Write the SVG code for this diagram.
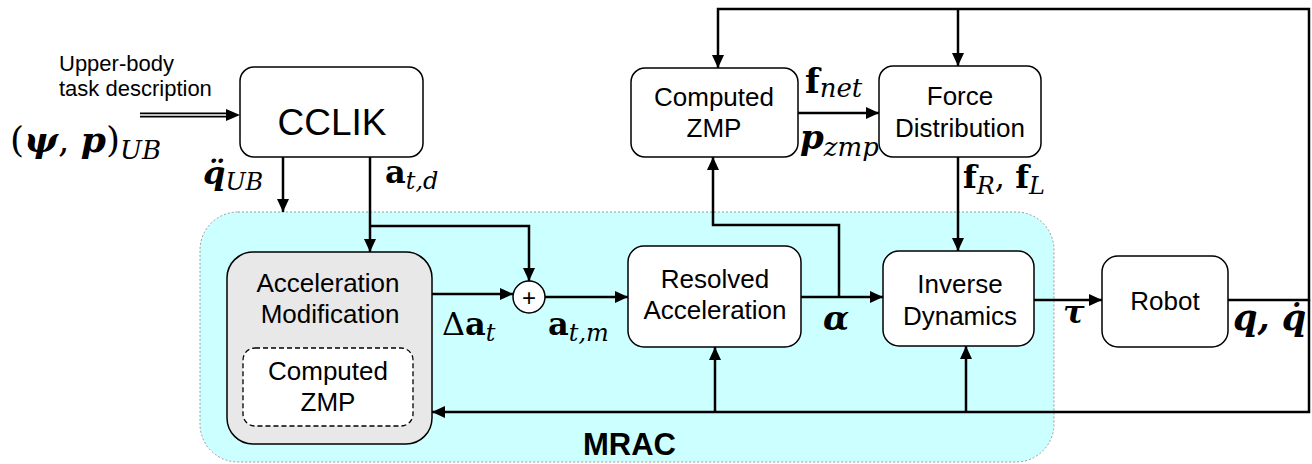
<svg xmlns="http://www.w3.org/2000/svg" width="1312" height="464" viewBox="0 0 1312 464">
<defs>
<marker id="ah" markerUnits="userSpaceOnUse" markerWidth="14" markerHeight="12" refX="13" refY="6" orient="auto">
<path d="M0,0 L13,6 L0,12 Z" fill="#000"/>
</marker>
<style>
.box{fill:#fff;stroke:#000;stroke-width:1.5}
.lbl{font-family:"Liberation Sans",Arial,sans-serif;font-size:26px;text-anchor:middle;fill:#000}
.ln{fill:none;stroke:#000;stroke-width:2.5}
.m{font-family:"DejaVu Serif","Liberation Serif",serif;fill:#000}
.mb{font-weight:bold}
.mi{font-style:italic}
</style>
</defs>
<rect width="1312" height="464" fill="#fff"/>
<g id="mrac">
<rect x="200" y="212" width="854" height="250" rx="38" fill="#ccffff" stroke="#999" stroke-width="1" stroke-dasharray="2,2"/>
<text x="583" y="455" font-family="'Liberation Sans',Arial,sans-serif" font-size="31" font-weight="bold">MRAC</text>
</g>
<g id="input">
<text x="59" y="71" font-family="'Liberation Sans',Arial,sans-serif" font-size="22">Upper-body</text>
<text x="59" y="96" font-family="'Liberation Sans',Arial,sans-serif" font-size="22">task description</text>
<text class="m" x="10" y="152" font-size="36">(<tspan class="mb mi">ψ</tspan>, <tspan class="mb mi">p</tspan>)<tspan class="mi" font-size="26" dy="7">UB</tspan></text>
</g>
<g id="cclik">
<rect class="box" x="240" y="67" width="183" height="90" rx="14"/>
<text class="lbl" x="332" y="135" style="font-size:37px">CCLIK</text>
</g>
<g id="accmod">
<rect x="227" y="252" width="205" height="192" rx="26" fill="#e8e8e8" stroke="#000" stroke-width="1.5"/>
<text class="lbl" x="328" y="292">Acceleration</text>
<text class="lbl" x="330" y="323">Modification</text>
<rect x="243" y="348" width="170" height="78" rx="12" fill="#fff" stroke="#000" stroke-width="1.3" stroke-dasharray="5,3"/>
<text class="lbl" x="328" y="380">Computed</text>
<text class="lbl" x="328" y="411">ZMP</text>
</g>
<g id="sum">
<circle cx="529" cy="297" r="16" fill="#fff" stroke="#000" stroke-width="1.5"/>
<text class="lbl" x="529" y="306" style="font-size:24px">+</text>
</g>
<g id="resacc">
<rect class="box" x="628" y="246" width="173" height="101" rx="16"/>
<text class="lbl" x="715" y="288">Resolved</text>
<text class="lbl" x="715" y="319">Acceleration</text>
</g>
<g id="czmp">
<rect class="box" x="631" y="68" width="167" height="89" rx="14"/>
<text class="lbl" x="714" y="106">Computed</text>
<text class="lbl" x="714" y="137">ZMP</text>
</g>
<g id="forcedist">
<rect class="box" x="879" y="66" width="162" height="91" rx="14"/>
<text class="lbl" x="960" y="105">Force</text>
<text class="lbl" x="960" y="137">Distribution</text>
</g>
<g id="invdyn">
<rect class="box" x="883" y="251" width="151" height="95" rx="16"/>
<text class="lbl" x="960" y="293">Inverse</text>
<text class="lbl" x="960" y="325">Dynamics</text>
</g>
<g id="robot">
<rect class="box" x="1102" y="256" width="126" height="91" rx="16"/>
<text class="lbl" x="1165" y="310">Robot</text>
</g>
<g id="connectors">
<line x1="140" y1="115" x2="228" y2="115" stroke="#000" stroke-width="5"/>
<line x1="140" y1="115" x2="230" y2="115" stroke="#fff" stroke-width="1.4"/>
<path d="M226,109 L240,115 L226,121 Z" fill="#000"/>
<path class="ln" d="M283,157 V212" marker-end="url(#ah)"/>
<path class="ln" d="M370,157 V252" marker-end="url(#ah)"/>
<path class="ln" d="M370,226 H529 V281" marker-end="url(#ah)"/>
<path class="ln" d="M432,294 H513" marker-end="url(#ah)"/>
<path class="ln" d="M545,297 H628" marker-end="url(#ah)"/>
<path class="ln" d="M801,297 H883" marker-end="url(#ah)"/>
<path class="ln" d="M839,297 V225 H713 V157" marker-end="url(#ah)"/>
<path class="ln" d="M798,113 H879" marker-end="url(#ah)"/>
<path class="ln" d="M958,157 V251" marker-end="url(#ah)"/>
<path class="ln" d="M1034,300 H1102" marker-end="url(#ah)"/>
<path class="ln" d="M1228,300 H1309 V9 H718 V68" marker-end="url(#ah)"/>
<path class="ln" d="M958,9 V66" marker-end="url(#ah)"/>
<path class="ln" d="M1309,300 V412 H432" marker-end="url(#ah)"/>
<path class="ln" d="M715,412 V347" marker-end="url(#ah)"/>
<path class="ln" d="M966,412 V346" marker-end="url(#ah)"/>
</g>
<g id="labels">
<text class="m" x="203" y="184" font-size="32"><tspan class="mb mi">q̈</tspan><tspan class="mi" font-size="24" dy="6">UB</tspan></text>
<text class="m" x="385" y="183" font-size="32"><tspan class="mb">a</tspan><tspan class="mi" font-size="24" dy="6">t,d</tspan></text>
<text class="m" x="442" y="335" font-size="32">Δ<tspan class="mb">a</tspan><tspan class="mi" font-size="24" dy="6">t</tspan></text>
<text class="m" x="548" y="335" font-size="32"><tspan class="mb">a</tspan><tspan class="mi" font-size="24" dy="6">t,m</tspan></text>
<text class="m mb mi" x="823" y="330" font-size="34">α</text>
<text class="m" x="805" y="93" font-size="34"><tspan class="mb">f</tspan><tspan class="mi" font-size="26" dy="4">net</tspan></text>
<text class="m" x="800" y="149" font-size="34"><tspan class="mb mi">p</tspan><tspan class="mi" font-size="26" dy="7">zmp</tspan></text>
<text class="m" x="963" y="188" font-size="32"><tspan class="mb">f</tspan><tspan class="mi" font-size="24" dy="6">R</tspan><tspan dy="-6">, </tspan><tspan class="mb">f</tspan><tspan class="mi" font-size="24" dy="6">L</tspan></text>
<text class="m mb mi" x="1063" y="323" font-size="32">τ</text>
<text class="m mb mi" x="1233" y="330" font-size="35">q, q̇</text>
</g>
</svg>
